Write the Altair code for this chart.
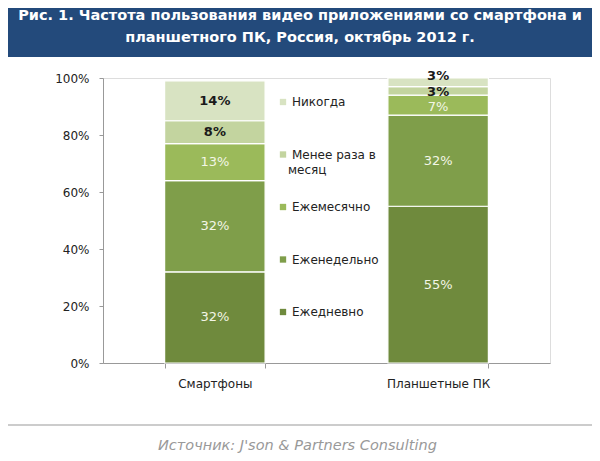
import altair as alt
import pandas as pd

devices = ["Смартфоны", "Планшетные ПК"]
frequencies = ["Ежедневно", "Еженедельно", "Ежемесячно", "Менее раза в месяц", "Никогда"]
smartphone_values = [32, 32, 13, 8, 14]
tablet_values = [55, 32, 7, 3, 3]
colors = ["#6f8a3d", "#7f9e4a", "#9bba5a", "#c3d49f", "#d8e3c2"]
y_ticks = [0, 20, 40, 60, 80, 100]
title_lines = ["Рис. 1. Частота пользования видео приложениями со смартфона и",
               "планшетного ПК, Россия, октябрь 2012 г."]
source_text = "Источник: J'son & Partners Consulting"
wrapped_label = ["Менее раза в", "месяц"]

rows = []
for dev, vals in zip(devices, [smartphone_values, tablet_values]):
    for i, (f, v) in enumerate(zip(frequencies, vals)):
        rows.append({"device": dev, "freq": f, "value": v, "order": i})
df = pd.DataFrame(rows)

W, H = 447, 285
PL, PT, PR, PB = 95, 70, 42, 90
FONT = "DejaVu Sans"

base = alt.Chart(df).transform_stack(
    stack="value", groupby=["device"], as_=["y0", "y1"],
    sort=[alt.SortField("order", "ascending")]
).transform_calculate(mid="(datum.y0 + datum.y1) / 2", label="datum.value + '%'")

xenc = alt.X("device:N", sort=devices, title=None,
             scale=alt.Scale(paddingInner=0.55, paddingOuter=0.276),
             axis=alt.Axis(labelAngle=0, labelFont=FONT, labelFontSize=12, labelColor="#222",
                           labelPadding=10, domainColor="#999", tickColor="#999",
                           tickBand="extent", tickSize=5))

bars = base.mark_bar(stroke="white", strokeWidth=1.2).encode(
    x=xenc,
    y=alt.Y("y0:Q", title=None, scale=alt.Scale(domain=[0, 100]),
            axis=alt.Axis(values=y_ticks, labelExpr="datum.value + '%'", labelFont=FONT,
                          labelFontSize=12, labelColor="#222", domainColor="#999",
                          tickColor="#999", tickSize=4, grid=False, labelPadding=10)),
    y2="y1:Q",
    color=alt.Color("freq:N",
                    scale=alt.Scale(domain=frequencies[::-1], range=colors[::-1]),
                    legend=alt.Legend(title=None, orient="none", legendX=174, legendY=18,
                                      symbolType="square", symbolSize=40, symbolStrokeWidth=0,
                                      labelFont=FONT, labelFontSize=12, labelColor="#222",
                                      rowPadding=40.5, labelOffset=3,
                                      labelExpr="datum.label == 'Менее раза в месяц' ? '" + wrapped_label[0] + "' : datum.label")),
)

xl = alt.X("device:N", sort=devices)
dark_labels = base.transform_filter("datum.order >= 3 && datum.value >= 5").mark_text(
    font=FONT, fontSize=13, fontWeight="bold", color="#1a1a1a").encode(
    x=xl, y="mid:Q", text="label:N")
small_top = base.transform_filter("datum.order == 4 && datum.value < 5").mark_text(
    font=FONT, fontSize=13, fontWeight="bold", color="#1a1a1a", dy=-6).encode(
    x=xl, y="mid:Q", text="label:N")
small_mid = base.transform_filter("datum.order == 3 && datum.value < 5").mark_text(
    font=FONT, fontSize=13, fontWeight="bold", color="#1a1a1a", dy=1).encode(
    x=xl, y="mid:Q", text="label:N")
light_labels = base.transform_filter("datum.order < 3 && datum.value >= 10").mark_text(
    font=FONT, fontSize=13, color="#f3f6e6").encode(
    x=xl, y="mid:Q", text="label:N")
light_small = base.transform_filter("datum.order < 3 && datum.value < 10").mark_text(
    font=FONT, fontSize=13, color="#f3f6e6", dy=2).encode(
    x=xl, y="mid:Q", text="label:N")

one = pd.DataFrame({"k": [0]})
banner = alt.Chart(one).mark_rect(color="#234a7b").encode(
    x=alt.value(-PL), x2=alt.value(W + PR), y=alt.value(-PT), y2=alt.value(-21))
t1 = alt.Chart(one).mark_text(font=FONT, fontSize=14.5, fontWeight="bold", color="white").encode(
    x=alt.value(197), y=alt.value(-62), text=alt.value(title_lines[0]))
t2 = alt.Chart(one).mark_text(font=FONT, fontSize=14.5, fontWeight="bold", color="white").encode(
    x=alt.value(197), y=alt.value(-40), text=alt.value(title_lines[1]))
legend_cont = alt.Chart(one).mark_text(font=FONT, fontSize=12, color="#222", align="left").encode(
    x=alt.value(185), y=alt.value(92), text=alt.value(wrapped_label[1]))
sep = alt.Chart(one).mark_rule(color="#bbbbbb", strokeWidth=1.5).encode(
    x=alt.value(-PL), x2=alt.value(W + PR), y=alt.value(347))
src = alt.Chart(one).mark_text(font=FONT, fontSize=14.5, fontStyle="italic", color="#999999",
                               align="left").encode(
    x=alt.value(55), y=alt.value(368), text=alt.value(source_text))

chart = alt.layer(bars, dark_labels, small_top, small_mid, light_labels, light_small,
                  banner, t1, t2, legend_cont, sep, src).properties(
    width=W, height=H, autosize="none",
    padding={"left": PL, "top": PT, "right": PR, "bottom": PB}
).configure_view(stroke=None).configure(background="white")

chart.save("out.html", embed_options={"renderer": "svg", "actions": False})
